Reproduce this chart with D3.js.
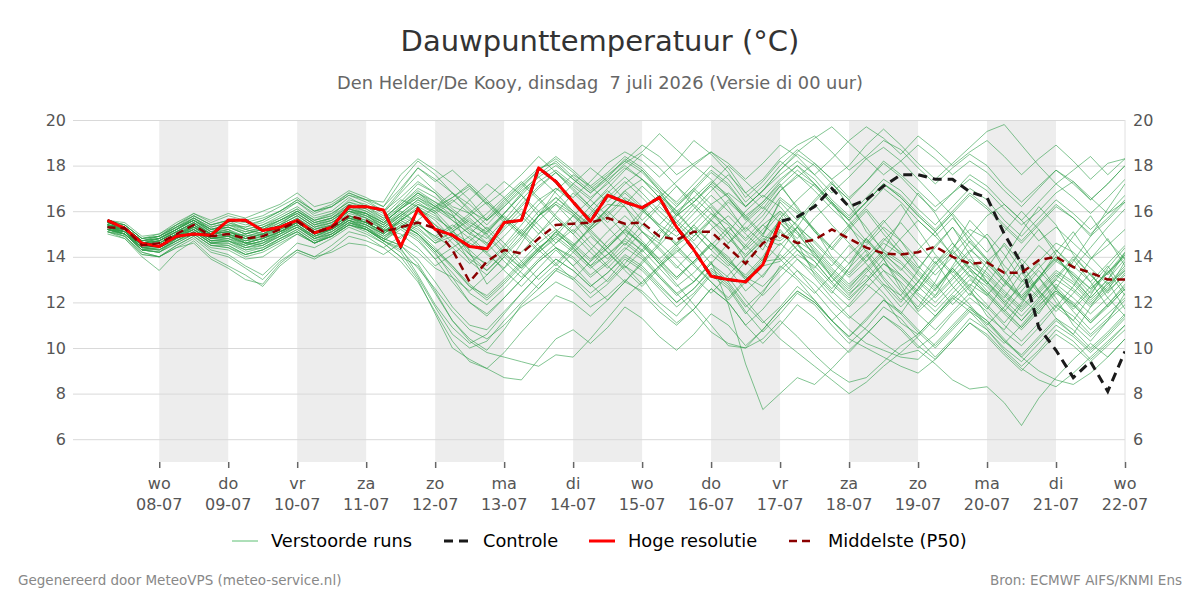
<!DOCTYPE html>
<html lang="nl">
<head>
<meta charset="UTF-8">
<script src="https://cdn.jsdelivr.net/npm/d3@7"></script>
<style>
  body { margin: 0; background: #fff; }
  svg text { font-family: "DejaVu Sans", sans-serif; }
</style>
<title>Dauwpunttemperatuur</title>
</head>
<body>
<script>
// ---- data (6-hourly, first value 07-07 06:00) ----
const startTime = new Date(2026, 6, 7, 6);
const stepHours = 6;
const dayTicks = ["08-07","09-07","10-07","11-07","12-07","13-07","14-07","15-07","16-07","17-07","18-07","19-07","20-07","21-07","22-07"];
const weekdays = ["zo","ma","di","wo","do","vr","za"];
const yTicks = [6, 8, 10, 12, 14, 16, 18, 20];

const hres = [15.6,15.25,14.6,14.45,14.9,15.0,14.95,15.6,15.6,15.15,
  15.3,15.6,15.05,15.3,16.2,16.2,16.05,14.45,16.1,15.2,
  14.95,14.45,14.35,15.5,15.6,17.9,17.3,16.4,15.55,16.7,
  16.4,16.15,16.6,15.3,14.3,13.15,13.0,12.9,13.65,15.55];

const control = [15.6,15.25,14.6,14.45,14.9,15.0,14.95,15.6,15.6,15.15,
  15.3,15.6,15.05,15.3,16.2,16.2,16.05,14.45,16.1,15.2,
  14.95,14.45,14.35,15.5,15.6,17.9,17.3,16.4,15.55,16.7,
  16.4,16.15,16.6,15.3,14.3,13.15,13.0,12.9,13.65,15.55,
  15.75,16.2,17.0,16.2,16.5,17.1,17.6,17.6,17.4,17.4,
  16.85,16.6,15.0,13.7,10.9,9.9,8.7,9.4,8.1,9.85];

const p50 = [15.3,15.25,14.5,14.6,15.0,15.4,14.9,15.0,14.8,14.9,
  15.2,15.55,15.05,15.3,15.8,15.6,15.1,15.3,15.5,15.25,
  14.3,12.9,13.8,14.3,14.15,14.8,15.4,15.45,15.5,15.7,
  15.45,15.5,14.9,14.75,15.1,15.1,14.4,13.7,14.6,15.0,
  14.6,14.75,15.2,14.8,14.4,14.15,14.1,14.2,14.45,14.0,
  13.7,13.75,13.3,13.3,13.85,14.0,13.55,13.3,13.0,13.0];

// perturbed members
const members = [
 [15.4,15.1,14.3,14.2,14.8,15.3,15.0,15.2,14.6,14.5, 15.0,15.6,15.2,15.4,16.0,15.9,15.2,14.8,15.6,16.2, 16.6,17.1,16.4,15.6,14.9,15.8,16.3,15.5,14.6,13.9, 14.8,15.9,16.7,16.0,15.1,14.3,13.6,14.5,15.4,14.8, 15.6,16.3,15.4,14.6,13.8,14.7,15.5,14.6,13.7,14.4, 15.2,14.8,13.6,12.9,13.8,14.6,14.2,13.5,12.8,13.4],
 [15.2,15.3,14.6,14.8,15.2,15.6,15.1,14.9,15.0,15.3, 15.6,15.9,15.4,15.7,16.3,16.1,15.6,16.4,17.2,16.8, 15.9,14.2,12.8,13.5,14.6,15.8,16.9,17.6,17.1,16.4, 17.2,17.8,16.9,15.8,16.4,17.1,16.2,15.1,15.8,16.9, 17.5,18.1,17.4,16.6,17.3,18.2,17.6,16.9,16.2,16.8, 17.4,16.9,16.1,15.4,16.0,16.8,17.3,16.6,15.9,16.4],
 [15.1,14.9,14.2,14.0,14.5,14.9,14.3,14.1,13.6,13.2, 13.9,14.6,14.4,14.8,15.3,15.0,14.6,14.0,13.6,12.4, 11.2,10.4,9.9,10.8,11.9,12.6,13.4,13.0,12.2,12.8, 13.6,13.1,12.0,11.4,12.3,13.2,12.6,11.5,12.4,13.6, 13.0,12.1,11.2,11.9,12.8,12.2,11.1,10.6,11.4,12.3, 11.8,10.9,10.2,11.0,11.9,12.5,11.6,10.8,11.5,12.2],
 [15.5,15.3,14.7,14.9,15.3,15.8,15.4,15.6,15.2,15.0, 15.4,16.0,15.6,15.8,16.5,16.3,15.9,16.8,17.6,16.9, 16.2,15.9,16.6,17.3,16.7,15.8,16.4,17.2,17.9,17.3, 16.5,15.6,16.3,17.1,16.2,15.4,14.6,15.5,16.2,15.5, 14.8,15.7,16.4,15.6,14.7,13.9,14.8,15.6,14.9,14.1, 14.9,15.8,16.3,15.6,14.7,15.3,14.6,13.9,14.5,15.2],
 [15.3,15.0,14.4,14.5,14.9,15.2,14.7,14.8,14.4,14.6, 15.1,15.4,14.8,15.0,15.6,15.2,14.8,15.4,15.0,14.2, 14.8,15.3,14.6,13.8,13.1,13.9,14.6,15.2,14.4,13.6, 12.9,13.7,14.5,15.3,14.6,13.7,12.9,13.8,14.6,13.9, 13.1,12.4,13.2,14.1,14.8,14.0,13.2,12.5,13.4,14.2, 13.5,12.8,12.0,12.7,13.5,14.3,13.6,12.9,13.7,14.5],
 [15.6,15.4,14.8,14.9,15.4,15.9,15.5,15.8,15.6,15.8, 16.2,16.6,16.0,16.2,16.7,16.4,16.0,16.9,17.9,17.4, 16.8,16.1,15.4,16.2,17.0,17.8,18.3,17.7,17.0,17.6, 18.2,18.9,18.4,17.6,18.1,18.6,17.9,16.8,17.4,18.3, 18.9,19.3,18.6,17.8,18.4,19.1,18.7,17.9,17.2,17.9, 18.5,18.0,17.1,16.4,17.1,17.8,17.3,16.5,17.2,18.0],
 [15.2,15.1,14.4,14.3,14.7,15.1,14.6,14.5,14.1,14.3, 14.8,15.2,14.7,14.9,15.5,15.3,14.7,14.2,13.1,11.8, 10.6,10.0,10.3,11.2,12.0,12.8,13.5,13.1,12.4,13.0, 13.9,13.4,12.6,11.8,12.4,13.3,12.7,11.6,10.7,11.5, 12.4,11.9,11.0,10.2,10.9,11.8,11.3,10.4,9.6,10.4, 11.3,10.8,9.9,9.2,9.9,10.8,10.3,9.5,10.2,11.0],
 [15.4,15.2,14.6,14.7,15.1,15.5,15.0,15.1,14.9,15.1, 15.4,15.8,15.3,15.6,16.1,15.8,15.4,16.2,16.8,16.2, 15.7,16.5,17.2,16.6,15.8,15.0,15.9,16.8,16.1,15.3, 14.5,15.4,16.2,15.5,14.7,15.6,16.4,15.7,14.9,14.7, 15.3,14.2,13.1,12.4,13.0,13.9,12.8,11.6,12.3,13.5, 12.6,11.4,10.8,11.9,13.1,12.2,11.0,10.3,11.2,12.4],
 [15.3,15.2,14.5,14.6,15.0,15.3,14.9,15.0,14.7,14.9, 15.3,15.6,15.1,15.4,15.9,15.7,15.3,15.8,16.4,15.9, 15.0,13.8,13.2,14.0,14.8,15.6,16.3,15.8,15.2,15.8, 16.5,16.0,15.4,14.9,15.6,16.3,16.8,16.2,16.9,17.6, 18.2,17.6,16.8,17.5,18.3,18.8,18.2,17.4,16.6,15.8, 14.6,13.9,13.0,12.3,13.1,13.9,13.2,12.6,13.3,14.1],
 [15.2,14.9,14.2,14.0,14.4,14.8,14.2,14.0,13.5,13.0, 13.8,14.3,14.0,14.5,15.1,14.9,14.4,13.8,12.9,11.6, 10.3,9.4,9.1,9.8,10.7,11.5,12.3,12.0,11.4,12.1, 12.9,12.5,11.8,11.1,11.7,12.6,12.0,11.0,10.2,11.0, 11.9,11.3,10.5,9.8,10.6,11.4,10.9,10.1,9.5,10.3, 11.1,10.5,9.7,9.0,9.8,10.6,10.1,9.4,10.1,10.8],
 [15.5,15.3,14.6,14.8,15.2,15.7,15.2,15.4,15.3,15.6, 16.0,16.4,15.8,16.0,16.6,16.2,15.8,16.5,16.2,15.4, 14.6,13.9,13.4,14.2,15.1,16.0,16.6,16.0,15.4,16.1, 16.9,17.4,16.8,16.0,16.6,17.3,16.7,15.8,16.4,17.2, 16.1,15.2,14.0,13.3,14.1,13.0,12.1,12.9,14.0,13.2, 12.3,13.5,14.6,13.7,12.5,11.8,12.7,13.9,14.8,13.6],
 [15.1,15.0,14.3,14.4,14.8,15.2,14.6,14.7,14.5,14.7, 15.0,15.3,14.9,15.2,15.7,15.4,15.0,15.6,15.2,14.6, 14.9,14.3,13.6,14.4,15.2,14.5,13.7,13.0,13.8,14.7, 15.4,14.7,13.9,14.6,15.3,14.6,13.8,13.1,12.7,13.5, 14.3,13.8,12.9,12.2,12.9,13.7,13.2,12.4,11.8,12.6, 13.4,12.9,12.1,11.4,12.2,13.0,12.5,11.8,12.5,13.2],
 [15.4,15.3,14.7,14.8,15.3,15.7,15.3,15.5,15.2,15.4, 15.8,16.2,15.7,15.9,16.4,16.2,15.7,16.3,17.0,16.6, 16.0,15.4,15.0,15.9,16.8,17.6,18.2,17.5,16.9,17.5, 18.3,17.8,17.0,16.4,17.2,18.0,17.4,16.4,17.1,18.0, 18.7,18.1,17.4,18.0,18.9,19.6,18.9,18.1,17.4,18.1, 18.8,19.5,19.8,18.9,18.0,17.2,17.8,18.4,17.6,18.3],
 [15.3,15.1,14.5,14.4,14.9,15.2,14.8,14.8,14.6,14.8, 15.1,15.5,15.0,15.3,15.8,15.5,15.1,15.5,15.0,14.2, 13.1,12.0,11.4,12.2,13.0,13.8,14.4,14.0,13.2,13.8, 14.6,14.0,13.1,12.4,12.9,13.8,11.9,9.3,7.3,8.0, 8.7,8.4,9.1,9.9,10.6,11.4,10.8,10.0,10.6,11.5, 12.2,11.6,10.7,10.1,10.9,11.8,11.2,10.5,11.2,11.9],
 [15.6,15.5,14.9,15.0,15.5,15.9,15.6,15.9,15.7,16.0, 16.3,16.8,16.2,16.4,16.9,16.6,16.2,17.0,17.9,17.3, 17.8,17.1,16.3,16.9,17.6,18.4,17.7,16.9,16.2,17.0, 17.8,18.5,17.9,17.1,16.4,17.2,18.0,17.3,16.6,17.4, 18.0,17.2,16.3,15.6,16.4,17.2,16.6,15.8,15.1,15.9, 16.7,16.1,15.3,14.6,15.4,16.2,15.7,14.9,15.6,16.4],
 [15.2,15.0,14.3,14.2,14.6,15.0,14.5,14.4,14.0,14.2, 14.6,15.0,14.6,14.9,15.4,15.1,14.6,14.0,13.0,11.5, 10.0,9.5,9.1,8.7,8.6,9.5,10.4,10.8,10.2,10.9, 11.8,11.3,10.5,9.9,10.6,11.5,11.0,10.1,10.8,11.7, 12.5,12.0,11.2,10.5,11.2,12.1,11.6,10.8,10.1,10.9, 11.7,11.2,10.3,9.7,10.5,11.3,10.8,10.0,10.7,11.5],
 [15.3,15.2,14.6,14.7,15.1,15.5,15.0,15.2,14.9,15.0, 15.2,15.5,15.0,15.2,15.7,15.4,15.0,15.6,16.2,15.8, 15.1,14.6,14.2,14.9,15.7,16.5,17.0,16.4,15.7,16.3, 16.2,15.1,14.6,15.8,16.9,16.1,15.0,13.8,13.1,14.2, 15.3,16.4,17.2,16.5,15.1,14.3,15.6,16.8,15.9,14.6, 13.5,12.8,13.9,15.1,16.2,15.4,14.1,13.2,12.5,13.8],
 [15.4,15.2,14.5,14.6,15.0,15.4,14.8,14.9,14.6,14.6, 14.9,15.3,14.8,15.1,15.6,15.3,14.9,15.3,14.8,13.9, 14.4,14.9,14.2,13.4,12.7,13.5,14.3,13.6,12.8,12.1, 12.9,13.8,14.6,13.9,13.1,12.4,13.2,14.0,14.8,14.5, 15.3,14.7,13.9,13.2,14.0,14.8,14.2,13.4,12.7,13.5, 14.3,13.7,12.9,12.2,13.0,13.8,13.3,12.6,13.3,14.0],
 [15.5,15.3,14.7,14.9,15.3,15.6,15.2,15.3,15.0,15.2, 15.6,16.0,15.5,15.7,16.2,16.0,15.5,16.1,16.8,16.3, 15.6,15.0,14.6,15.4,16.3,17.1,17.7,17.1,16.5,17.3, 18.1,18.6,19.4,18.7,18.0,17.4,16.6,15.7,16.4,17.3, 18.0,17.4,16.5,15.8,16.6,17.4,16.9,16.1,15.4,16.2, 17.0,16.5,15.6,14.9,15.7,16.5,15.9,15.2,15.9,16.7],
 [15.1,14.8,14.1,14.0,14.5,14.9,14.4,14.3,13.9,14.0, 14.5,15.0,14.6,15.0,15.5,15.2,14.8,14.5,13.9,12.9, 11.8,11.0,10.8,11.6,12.4,13.2,13.9,13.4,12.7,13.3, 14.1,13.6,12.8,12.0,12.6,13.5,12.9,11.9,11.1,11.8, 12.7,12.1,11.2,10.4,10.0,9.6,9.2,8.9,9.5,10.3, 11.1,10.6,9.8,9.1,8.6,8.3,8.9,9.6,10.3,11.0],
 [15.3,15.1,14.5,14.6,15.0,15.3,14.8,14.9,14.7,14.8, 15.1,15.4,14.9,15.2,15.7,15.5,15.1,15.7,16.3,16.0, 15.2,14.1,13.4,14.1,14.9,15.8,16.4,15.9,15.2,15.9, 16.6,16.1,15.3,14.5,15.1,15.9,15.4,14.3,15.0,15.9, 14.6,13.2,12.4,13.5,14.8,13.9,12.6,11.8,12.9,14.3, 15.6,14.8,13.4,12.2,11.5,12.6,13.8,14.9,16.1,17.2],
 [15.2,15.1,14.4,14.5,14.9,15.4,14.9,15.0,14.8,15.0, 15.3,15.7,15.2,15.4,16.0,15.7,15.2,15.0,14.4,13.6, 14.1,14.7,15.3,14.6,13.8,13.0,13.7,14.5,15.2,14.4, 13.6,12.8,13.6,14.4,13.7,12.9,12.2,13.0,13.8,13.9, 14.7,14.2,13.4,12.7,13.4,14.2,13.7,12.9,12.2,13.0, 13.8,13.2,12.4,11.7,12.5,13.3,12.8,12.0,12.7,13.5],
 [15.6,15.4,14.8,15.0,15.4,15.8,15.4,15.6,15.5,15.7, 16.0,16.5,16.0,16.2,16.8,16.5,16.2,17.3,18.2,17.6, 16.8,16.0,15.6,16.4,17.2,17.9,18.1,17.4,16.8,17.4, 18.0,17.4,16.6,15.8,16.4,17.2,16.6,15.6,16.3,17.1, 17.8,17.2,16.4,15.7,16.4,17.2,16.7,15.9,15.2,16.0, 16.8,16.2,15.4,14.7,15.5,16.3,15.7,15.0,15.7,16.5],
 [15.3,15.0,14.4,14.3,14.7,15.1,14.6,14.7,14.3,14.4, 14.8,15.1,14.6,14.9,15.4,15.2,14.7,15.3,15.9,15.4, 14.9,14.4,15.1,15.8,15.1,14.3,13.6,14.4,15.3,16.0, 15.3,14.5,13.7,14.5,15.4,14.6,13.8,13.2,14.0,15.2, 14.3,13.5,14.6,15.4,14.2,13.1,12.3,13.4,14.5,15.3, 14.1,12.9,12.2,13.3,12.4,11.3,10.6,11.8,12.9,11.7],
 [15.4,15.3,14.6,14.7,15.1,15.5,15.1,15.2,14.8,15.0, 15.4,15.8,15.3,15.5,16.0,15.8,15.4,16.0,15.5,14.7, 15.1,15.6,14.9,14.1,13.5,14.3,15.1,14.4,13.6,12.9, 13.7,14.6,13.9,13.1,13.8,14.5,13.7,13.0,12.3,13.1, 13.9,13.3,12.5,11.8,12.6,13.4,12.9,12.1,11.4,12.2, 13.0,12.4,11.6,10.9,11.7,12.5,12.0,11.2,11.9,12.7],
 [15.2,15.0,14.3,14.3,14.7,15.1,14.6,14.6,14.3,14.5, 14.9,15.3,14.8,15.1,15.6,15.4,14.9,15.4,15.0,14.3, 13.6,12.8,12.2,12.9,13.7,14.4,14.9,14.3,13.6,14.1, 14.7,14.1,13.2,12.4,11.6,10.7,10.2,10.0,10.4,11.2, 10.5,9.7,9.0,8.5,8.7,9.4,10.1,10.6,11.4,12.2, 11.6,10.8,10.0,9.4,10.2,11.0,10.5,9.8,10.5,11.3],
 [15.5,15.2,14.6,14.7,15.2,15.6,15.2,15.3,15.1,15.3, 15.7,16.1,15.6,15.8,16.3,16.0,15.6,16.2,16.8,16.4, 15.8,15.2,14.8,15.6,16.5,17.3,17.8,17.2,16.6,17.2, 17.9,17.4,16.6,17.3,18.0,18.6,18.1,17.4,18.1,18.9, 18.4,17.6,18.3,19.1,19.7,19.2,18.5,19.3,18.7,18.0, 18.6,19.1,18.4,17.6,18.3,18.9,18.2,17.4,18.1,18.3],
 [15.3,15.2,14.5,14.5,14.9,15.2,14.7,14.8,14.5,14.7, 15.0,15.4,14.9,15.2,15.6,15.4,15.0,15.6,16.1,15.7, 15.2,15.8,16.4,15.7,15.0,14.2,14.9,15.8,16.5,15.8, 15.0,14.2,15.0,15.9,16.6,15.9,15.1,14.4,15.2,16.0, 15.4,14.6,13.8,13.1,13.8,14.6,14.1,13.3,12.6,13.4, 12.5,11.7,12.8,13.9,13.1,12.0,11.2,12.3,13.5,14.4],
 [15.2,15.1,14.4,14.3,14.8,15.2,14.7,14.7,14.4,14.5, 14.9,15.3,14.8,15.0,15.5,15.2,14.7,14.3,13.5,12.6, 11.6,10.8,10.4,11.0,11.8,12.3,12.9,12.5,11.8,12.3, 13.0,12.4,11.6,11.0,11.7,12.6,12.0,11.0,11.7,12.6, 13.4,12.8,12.0,11.3,12.0,12.8,12.3,11.5,10.8,11.6, 12.4,11.8,11.0,10.3,11.1,11.9,11.4,10.6,11.3,12.1],
 [15.4,15.3,14.7,14.8,15.2,15.6,15.2,15.4,15.1,15.3, 15.6,16.0,15.5,15.7,16.1,15.9,15.5,16.1,16.7,16.2, 16.8,16.3,15.6,16.2,16.9,17.5,16.8,16.0,15.3,16.1, 16.9,16.2,15.4,16.2,17.0,16.3,15.5,14.8,15.6,16.6, 16.0,15.1,14.3,15.2,16.0,15.0,14.1,13.2,12.5,13.6, 14.7,13.8,12.9,12.1,13.0,14.2,15.1,14.0,13.2,14.1],
 [15.0,14.8,14.0,13.4,14.2,14.7,14.0,13.6,13.2,12.7, 13.6,14.2,13.9,14.3,14.9,14.7,14.4,14.9,15.4,14.9, 15.4,14.8,14.1,13.5,14.2,15.0,15.7,15.0,14.2,13.5, 14.3,15.1,14.4,13.6,12.9,13.7,14.6,15.3,14.6,15.5, 14.6,13.8,12.9,13.7,14.8,15.6,14.7,13.6,12.8,11.9, 12.7,13.8,14.5,13.4,12.5,11.6,12.4,13.3,12.2,11.4],
 [15.5,15.4,14.8,14.9,15.3,15.7,15.3,15.5,15.3,15.5, 15.9,16.4,15.9,16.2,16.7,16.5,16.4,17.6,18.3,17.8, 17.2,16.5,15.6,16.3,17.1,17.8,18.4,17.8,17.1,17.7, 18.4,17.9,17.1,16.3,17.0,17.8,17.2,16.2,16.9,17.8, 18.5,18.0,17.2,16.5,17.3,18.1,17.5,16.7,16.0,16.8, 17.6,17.1,16.3,15.6,16.4,17.2,16.6,15.9,16.6,17.4],
 [15.3,15.1,14.5,14.6,15.0,15.4,14.9,15.0,14.6,14.8, 15.1,15.5,15.0,15.3,15.8,15.6,15.2,15.8,15.4,14.9, 14.4,13.7,14.4,15.2,15.9,15.2,14.4,13.6,14.3,15.1, 15.8,15.1,14.3,13.5,14.3,15.2,15.8,15.0,14.3,15.7, 16.5,17.2,16.4,15.3,14.6,15.5,16.3,15.2,14.1,13.3, 14.2,15.0,14.1,13.0,12.2,13.1,14.0,13.2,12.4,13.3],
 [15.2,15.0,14.3,14.4,14.8,15.1,14.6,14.6,14.2,14.4, 14.8,15.2,14.7,15.0,15.5,15.3,14.8,14.5,13.7,12.5, 11.2,10.3,9.8,9.6,9.4,9.2,9.7,9.6,10.4,11.3, 12.2,12.9,13.6,14.2,14.9,15.6,15.0,14.0,14.7,15.6, 15.0,14.1,13.3,12.6,13.5,12.7,11.8,12.6,13.6,14.3, 13.4,12.5,11.7,10.9,11.8,12.7,11.9,11.1,11.9,12.8],
 [15.4,15.2,14.5,14.7,15.1,15.5,15.0,15.1,14.9,15.1, 15.5,15.9,15.4,15.6,16.1,15.9,15.4,15.9,16.5,16.1, 16.6,17.2,16.5,15.7,15.0,15.8,16.6,15.9,15.1,14.4, 15.2,16.0,16.7,15.9,15.1,14.3,15.1,16.0,16.7,16.2, 15.3,14.4,13.6,14.5,13.7,12.8,12.0,12.9,13.8,12.7, 11.9,11.0,11.8,12.9,13.7,12.6,11.7,12.5,13.4,12.3],
 [15.3,15.1,14.4,14.5,14.9,15.3,14.8,14.9,14.6,14.8, 15.2,15.5,15.0,15.2,15.7,15.5,15.1,15.6,15.1,14.4, 13.6,12.7,12.1,12.8,13.6,14.4,15.0,14.5,13.8,14.4, 15.1,14.6,13.8,13.1,13.8,14.6,14.0,13.0,13.7,14.6, 13.9,13.1,12.2,11.4,10.8,10.2,9.7,9.9,9.3,8.6, 8.2,8.3,7.6,6.6,7.8,8.7,9.5,10.2,9.6,10.4],
 [15.5,15.3,14.7,14.8,15.2,15.7,15.2,15.4,15.2,15.4, 15.7,16.1,15.6,15.9,16.4,16.1,15.7,16.3,16.9,16.4, 16.0,15.3,15.9,16.6,17.3,16.6,15.8,15.1,15.9,16.8, 17.5,16.8,16.0,15.3,16.1,16.9,17.6,16.8,16.1,17.1, 16.2,15.1,14.4,15.3,16.1,15.2,14.3,13.5,14.4,15.3, 14.4,13.5,12.7,13.6,14.5,13.8,14.9,15.8,14.7,13.9],
 [15.2,15.0,14.3,14.2,14.7,15.0,14.5,14.5,14.1,14.3, 14.7,15.1,14.6,14.9,15.4,15.2,14.7,15.2,14.7,13.9, 12.9,12.0,11.5,12.2,13.0,13.8,14.4,13.9,13.1,13.7, 14.4,13.9,13.1,12.3,12.9,13.7,13.1,12.1,11.2,10.4, 9.8,9.2,8.6,8.0,8.5,9.2,9.8,10.5,11.3,12.1, 12.8,12.3,11.5,10.8,11.6,12.4,11.9,11.1,11.8,12.6],
 [15.4,15.2,14.6,14.7,15.1,15.4,15.0,15.1,14.8,15.0, 15.3,15.7,15.2,15.5,16.0,15.7,15.3,15.9,15.5,14.8, 15.3,15.9,15.2,14.4,13.6,14.3,15.1,15.8,15.0,14.2, 13.5,14.3,15.2,14.5,13.7,14.5,15.3,14.5,13.8,15.7, 15.1,14.3,13.5,12.8,13.5,14.3,13.8,13.0,12.3,13.1, 13.9,13.3,12.5,11.8,12.6,13.4,12.9,12.1,12.8,13.6],
 [15.6,15.4,14.8,14.9,15.4,15.8,15.4,15.6,15.4,15.6, 16.0,16.5,16.0,16.3,16.8,16.5,16.0,16.6,17.3,16.8, 16.1,15.5,15.1,15.9,16.7,17.5,18.0,17.4,16.8,17.5, 18.2,17.7,16.9,16.2,16.9,17.7,17.1,16.2,16.9,17.8, 18.6,19.2,19.7,19.0,18.3,17.6,18.2,18.9,18.3,17.6, 18.2,17.7,16.9,16.2,17.0,17.8,17.2,16.5,17.2,18.0],
 [15.1,14.9,14.1,14.0,14.4,14.6,13.9,13.5,13.0,12.8, 13.7,14.3,14.0,14.2,14.6,14.5,14.1,14.6,14.2,13.5, 13.1,12.5,13.2,14.0,13.3,12.6,13.4,14.2,14.9,14.2, 13.4,12.7,13.5,14.3,13.6,12.9,12.1,12.9,13.6,13.8, 14.5,14.0,13.2,12.5,13.3,14.1,13.5,12.7,12.0,12.8, 13.6,13.1,12.3,11.6,12.4,13.2,12.6,11.9,12.6,13.4],
 [15.3,15.2,14.6,14.6,15.0,15.4,15.0,15.1,14.8,14.9, 15.2,15.6,15.1,15.3,15.8,15.6,15.2,15.8,16.3,15.9, 16.4,17.0,16.3,15.5,16.2,17.0,17.7,17.0,16.2,15.5, 16.3,17.1,16.4,15.6,14.9,15.7,16.5,15.8,15.0,16.4, 15.6,16.5,17.3,16.2,15.3,14.2,13.4,14.3,15.1,14.0, 13.1,12.3,13.2,14.3,15.2,14.1,13.0,12.2,13.0,14.2],
 [15.2,15.0,14.4,14.4,14.8,15.2,14.7,14.7,14.4,14.6, 15.0,15.4,14.9,15.1,15.6,15.3,14.8,15.3,14.9,14.1, 13.3,12.4,11.9,12.6,13.4,14.2,14.8,14.2,13.5,14.1, 14.8,14.3,13.5,12.7,13.3,14.1,13.5,12.5,13.2,14.1, 13.4,12.5,11.6,10.8,10.2,9.9,9.6,9.5,10.2,11.0, 11.8,11.2,10.4,9.6,9.0,8.6,8.4,8.9,9.6,10.4],
 [15.4,15.3,14.6,14.8,15.2,15.6,15.1,15.3,15.0,15.2, 15.6,16.0,15.5,15.7,16.2,15.9,15.5,16.1,16.6,16.2, 15.8,15.1,14.5,15.3,16.1,15.4,14.6,15.4,16.2,16.9, 16.2,15.4,14.7,15.5,16.3,15.6,14.8,14.1,14.9,16.5, 15.9,15.2,14.4,13.7,14.5,15.3,14.7,13.9,13.2,14.0, 13.2,12.4,11.6,12.5,13.4,12.6,11.8,12.7,13.6,12.5],
 [15.3,15.1,14.5,14.6,15.0,15.3,14.8,15.0,14.7,14.9, 15.2,15.6,15.1,15.3,15.8,15.5,15.1,15.6,16.1,15.6, 14.8,14.1,13.7,14.5,15.4,16.3,17.0,16.6,17.3,18.1, 18.6,18.2,17.5,18.2,19.1,18.5,17.7,16.6,17.3,18.2, 17.6,16.9,16.1,15.4,16.2,17.0,16.4,15.6,14.9,15.7, 14.8,13.9,13.0,12.2,13.1,14.0,13.2,12.4,13.3,14.2],
 [15.3,15.1,14.5,14.5,14.9,15.3,14.8,14.9,14.5,14.7, 15.1,15.5,15.0,15.2,15.7,15.5,15.0,15.5,15.0,14.3, 13.5,12.7,12.3,13.0,13.8,14.6,15.2,14.6,13.9,14.5, 15.2,14.6,13.7,12.8,11.9,11.0,10.1,10.0,10.8,11.7, 12.5,12.0,11.2,10.5,11.3,12.1,11.5,10.7,10.0,10.8, 11.6,11.1,10.3,9.6,10.4,11.2,10.6,9.9,10.6,11.4],
 [15.4,15.2,14.5,14.7,15.1,15.5,15.0,15.1,14.8,15.0, 15.4,15.8,15.3,15.5,16.0,15.8,15.3,15.9,16.5,16.0, 16.5,15.9,15.2,15.9,16.7,16.0,15.2,14.5,15.3,16.1, 16.8,16.1,15.3,14.6,15.4,16.2,15.5,14.7,15.4,16.0, 15.1,14.0,13.1,12.3,13.2,12.4,11.5,12.6,13.7,14.6, 13.8,12.9,12.0,11.2,12.1,13.0,13.9,12.9,11.8,12.6],
 [15.2,15.0,14.3,14.2,14.6,15.0,14.5,14.4,14.1,14.3, 14.7,15.1,14.6,14.9,15.4,15.2,14.7,14.4,13.2,11.9, 10.9,10.2,10.6,11.5,12.4,13.2,13.9,13.4,12.7,13.3, 14.0,13.5,12.7,12.0,12.6,13.4,12.8,11.8,12.5,13.4, 14.1,13.6,12.8,12.1,12.9,13.7,13.1,12.3,11.6,12.4, 13.2,12.7,11.9,11.2,12.0,12.8,12.2,11.5,12.2,13.0],
 [15.5,15.3,14.7,14.8,15.2,15.6,15.1,15.3,15.0,15.2, 15.5,15.9,15.4,15.6,16.1,15.9,15.5,16.1,16.6,16.1, 15.6,15.0,15.7,16.5,17.2,16.5,15.7,15.0,15.8,16.6, 17.3,16.6,15.8,15.1,15.9,16.7,16.0,15.2,16.0,16.9, 17.6,17.1,16.3,15.6,16.4,17.2,16.6,15.8,15.1,15.9, 15.0,14.2,15.1,16.0,15.2,14.3,13.5,14.4,15.3,16.1],
 [15.3,15.1,14.4,14.5,14.9,15.3,14.8,14.9,14.6,14.8, 15.1,15.5,15.0,15.3,15.8,15.5,15.1,15.7,15.3,14.6, 15.1,15.7,15.0,14.2,13.5,14.3,15.1,14.4,13.6,14.4, 15.2,14.5,13.7,13.0,13.8,14.6,13.9,13.1,13.9,15.1, 14.3,13.4,12.6,13.5,14.3,13.4,12.5,11.7,12.6,13.5, 12.7,11.9,11.1,12.0,13.1,14.0,13.1,12.2,13.0,13.9]
];

// ---- layout ----
const W = 1200, H = 600;
const plot = { left: 73, right: 1125, top: 120, bottom: 462 };

const svg = d3.select("body").append("svg")
  .attr("width", W)
  .attr("height", H);

const parseDay = d3.timeParse("%d-%m-%Y");
const days = dayTicks.map(d => parseDay(d + "-2026"));
const timeAt = i => d3.timeHour.offset(startTime, i * stepHours);

const x = d3.scaleTime()
  .domain([new Date(2026, 6, 6, 18), new Date(2026, 6, 22, 0)])
  .range([plot.left, plot.right]);

const y = d3.scaleLinear()
  .domain([5, 20])
  .range([plot.bottom, plot.top]);

// shaded alternate days
svg.append("g")
  .selectAll("rect")
  .data(days.filter((d, i) => i % 2 === 0 && i < days.length - 1))
  .enter()
  .append("rect")
  .attr("x", d => x(d))
  .attr("y", plot.top)
  .attr("width", d => x(d3.timeDay.offset(d, 1)) - x(d))
  .attr("height", plot.bottom - plot.top)
  .attr("fill", "#ededed");

// grid lines
const grid = svg.append("g")
  .attr("transform", "translate(" + plot.left + ",0)")
  .call(d3.axisLeft(y).tickValues(yTicks).tickSize(-(plot.right - plot.left)).tickFormat(""));
grid.select(".domain").remove();
grid.selectAll(".tick line").attr("stroke", "#d9d9d9");

svg.append("line")
  .attr("x1", plot.right).attr("x2", plot.right)
  .attr("y1", plot.top).attr("y2", plot.bottom)
  .attr("stroke", "#e0e0e0");

// y labels left and right
const yLeft = svg.append("g")
  .attr("transform", "translate(" + plot.left + ",0)")
  .call(d3.axisLeft(y).tickValues(yTicks).tickSize(0).tickPadding(7));
const yRight = svg.append("g")
  .attr("transform", "translate(" + plot.right + ",0)")
  .call(d3.axisRight(y).tickValues(yTicks).tickSize(0).tickPadding(8));
[yLeft, yRight].forEach(g => {
  g.select(".domain").remove();
  g.selectAll("text")
    .style("font-family", "DejaVu Sans, sans-serif")
    .style("font-size", "16px")
    .attr("fill", "#555");
});

// x axis (ticks only, two-line labels added below)
const xAxis = svg.append("g")
  .attr("transform", "translate(0," + plot.bottom + ")")
  .call(d3.axisBottom(x).tickValues(days).tickSize(6).tickFormat(""));
xAxis.select(".domain").remove();
xAxis.selectAll(".tick line").attr("stroke", "#666").attr("stroke-width", 1.5);

const xLabels = svg.append("g")
  .selectAll("g")
  .data(days)
  .enter()
  .append("g")
  .attr("transform", d => "translate(" + x(d) + ",0)");
xLabels.append("text")
  .attr("y", 489)
  .attr("text-anchor", "middle")
  .style("font-size", "16px")
  .attr("fill", "#555")
  .text(d => weekdays[d.getDay()]);
xLabels.append("text")
  .attr("y", 510)
  .attr("text-anchor", "middle")
  .style("font-size", "16px")
  .attr("fill", "#555")
  .text(d => d3.timeFormat("%d-%m")(d));

// series
svg.append("clipPath").attr("id", "clip")
  .append("rect")
  .attr("x", plot.left).attr("y", plot.top)
  .attr("width", plot.right - plot.left).attr("height", plot.bottom - plot.top);

const line = d3.line()
  .x((d, i) => x(timeAt(i)))
  .y(d => y(d));

const series = svg.append("g").attr("clip-path", "url(#clip)");

series.selectAll(".member")
  .data(members)
  .enter()
  .append("path")
  .attr("class", "member")
  .attr("d", line)
  .attr("fill", "none")
  .attr("stroke", "#2f9e4a")
  .attr("stroke-opacity", 0.6)
  .attr("stroke-width", 1);

series.append("path")
  .attr("d", line(control))
  .attr("fill", "none")
  .attr("stroke", "#1a1a1a")
  .attr("stroke-width", 3)
  .attr("stroke-dasharray", "9,6");

series.append("path")
  .attr("d", line(hres))
  .attr("fill", "none")
  .attr("stroke", "#ff0000")
  .attr("stroke-width", 3)
  .attr("stroke-linejoin", "round");

series.append("path")
  .attr("d", line(p50))
  .attr("fill", "none")
  .attr("stroke", "#8b0000")
  .attr("stroke-width", 2.5)
  .attr("stroke-dasharray", "8,5");

// titles
svg.append("text")
  .attr("x", W / 2)
  .attr("y", 51)
  .attr("text-anchor", "middle")
  .style("font-size", "29px")
  .attr("fill", "#333")
  .text("Dauwpunttemperatuur (°C)");

svg.append("text")
  .attr("x", W / 2)
  .attr("y", 89)
  .attr("text-anchor", "middle")
  .style("font-size", "17.8px")
  .style("white-space", "pre")
  .attr("fill", "#666")
  .text("Den Helder/De Kooy, dinsdag  7 juli 2026 (Versie di 00 uur)");

// legend
const legendItems = [
  { label: "Verstoorde runs", x: 232, color: "#5cbf72", width: 1, dash: null },
  { label: "Controle", x: 444, color: "#1a1a1a", width: 3, dash: "9,6" },
  { label: "Hoge resolutie", x: 589, color: "#ff0000", width: 3, dash: null },
  { label: "Middelste (P50)", x: 789, color: "#8b0000", width: 2.5, dash: "8,5" }
];
const legend = svg.append("g")
  .selectAll("g")
  .data(legendItems)
  .enter()
  .append("g")
  .attr("transform", d => "translate(" + d.x + ",541)");
legend.append("line")
  .attr("x1", 0).attr("x2", 26)
  .attr("stroke", d => d.color)
  .attr("stroke-width", d => d.width)
  .attr("stroke-dasharray", d => d.dash);
legend.append("text")
  .attr("x", 39)
  .attr("y", 6)
  .style("font-size", "17.8px")
  .attr("fill", "#000")
  .text(d => d.label);

// footer
svg.append("text")
  .attr("x", 18)
  .attr("y", 585)
  .style("font-size", "13.5px")
  .attr("fill", "#888")
  .text("Gegenereerd door MeteoVPS (meteo-service.nl)");

svg.append("text")
  .attr("x", 1182)
  .attr("y", 585)
  .attr("text-anchor", "end")
  .style("font-size", "13.5px")
  .attr("fill", "#888")
  .text("Bron: ECMWF AIFS/KNMI Ens");
</script>
</body>
</html>
